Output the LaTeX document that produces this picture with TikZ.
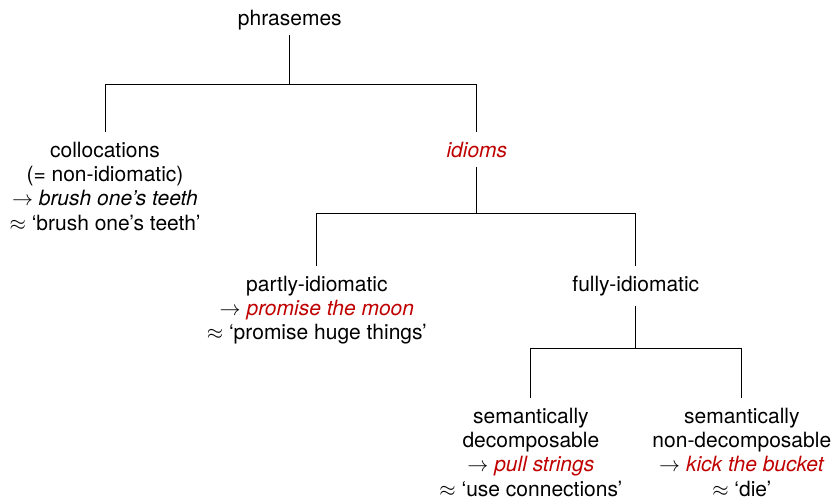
\documentclass[tikz,border=0pt]{standalone}
\usepackage{fontspec}
\setmainfont{TeX Gyre Heros}
\definecolor{idiomred}{RGB}{192,0,0}
\newcommand{\ex}[1]{\textcolor{idiomred}{\textit{#1}}}
\tikzset{
  cat/.style={align=center, inner xsep=3pt, inner ysep=4.5pt, font=\fontsize{10}{11.6}\selectfont},
  branch/.style={thin, black}
}
\begin{document}
\begin{tikzpicture}
            \useasboundingbox (0,0) rectangle (13.99,-8.35);
            \node[cat, anchor=south, inner ysep=2.5pt] (phr) at (4.85,-0.59) {phrasemes};
            \node[cat, anchor=north] (coll) at (1.757,-2.21) {collocations\\(= non-idiomatic)\\$\rightarrow$ \textit{brush one's teeth}\\$\approx$ `brush one's teeth'};
            \node[cat, anchor=north] (idi) at (7.98,-2.21) {\ex{idioms}};
            \node[cat, anchor=north] (part) at (5.303,-4.45) {partly-idiomatic\\$\rightarrow$ \ex{promise the moon}\\$\approx$ `promise huge things'};
            \node[cat, anchor=north] (full) at (10.64,-4.45) {fully-idiomatic};
            \node[cat, anchor=north] (dec) at (8.884,-6.66) {semantically\\decomposable\\$\rightarrow$ \ex{pull strings}\\$\approx$ `use connections'};
            \node[cat, anchor=north] (nondec) at (12.414,-6.66) {semantically\\non-decomposable\\$\rightarrow$ \ex{kick the bucket}\\$\approx$ `die'};
            \draw[branch] (phr.south) -- (4.85,-1.405) coordinate (b1);
            \draw[branch] (coll.north) |- (b1) -| (idi.north);
            \draw[branch] (idi.south) -- (7.98,-3.564) coordinate (b2);
            \draw[branch] (part.north) |- (b2) -| (full.north);
            \draw[branch] (full.south) -- (10.64,-5.839) coordinate (b3);
            \draw[branch] (dec.north) |- (b3) -| (nondec.north);
        \end{tikzpicture}
\end{document}
